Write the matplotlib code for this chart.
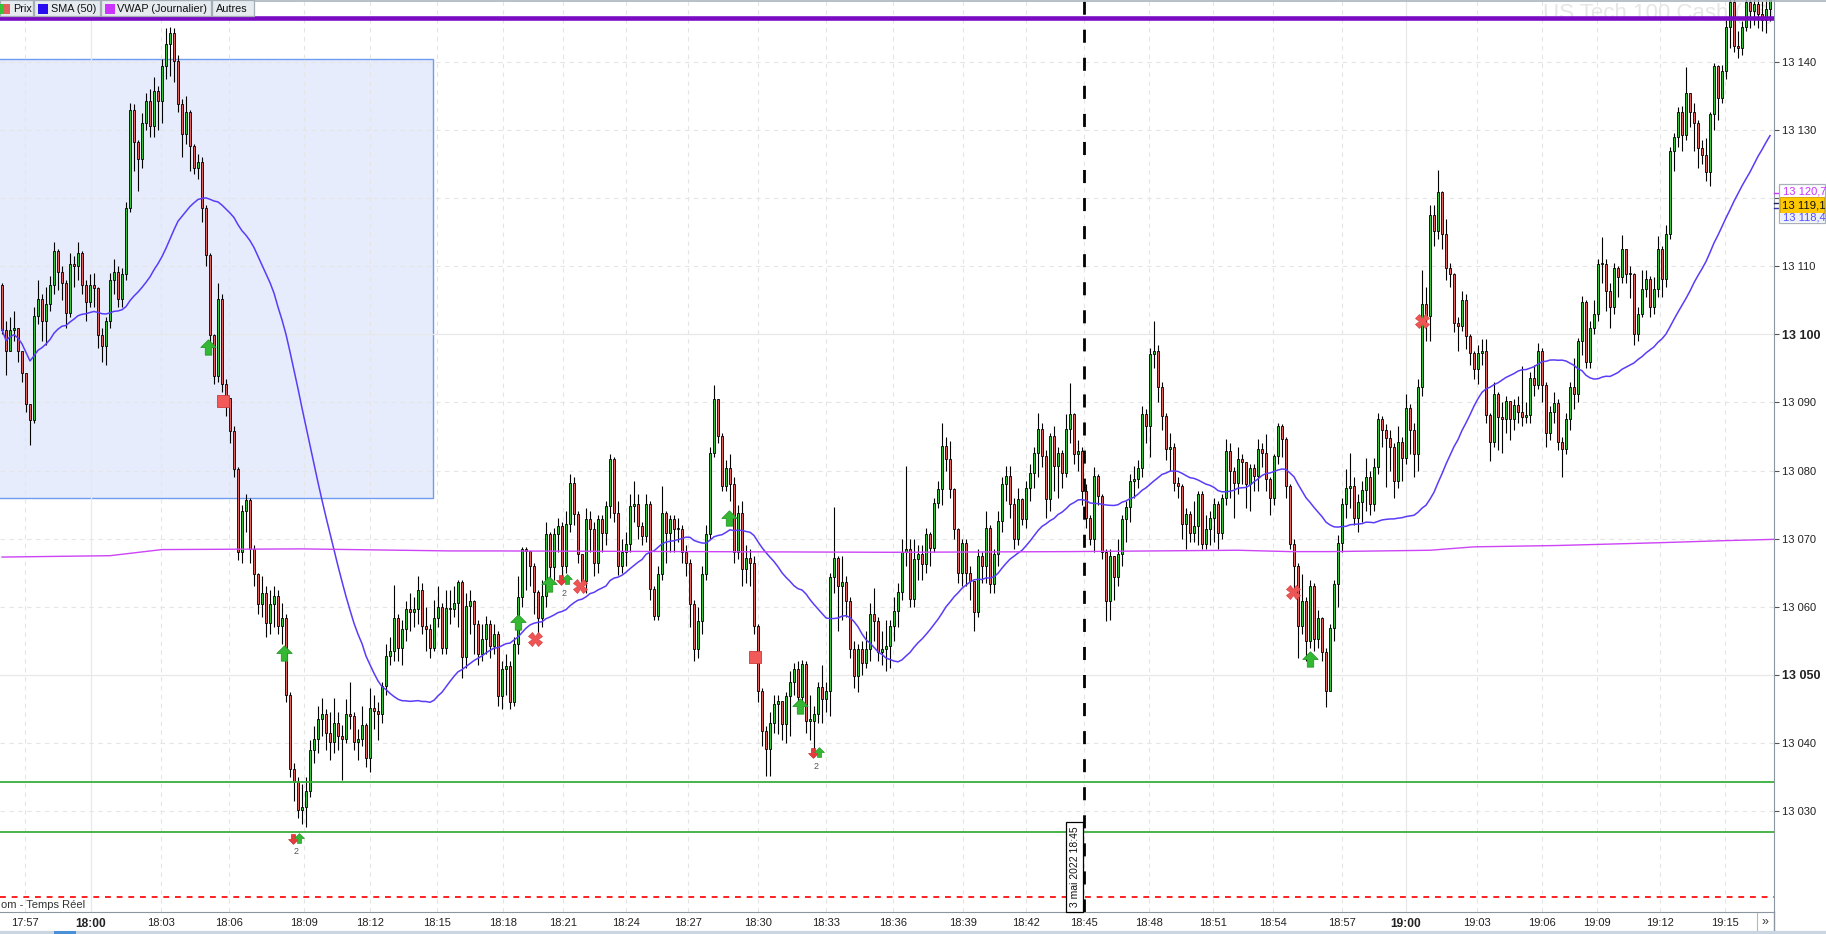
import numpy as np
import pandas as pd
import matplotlib
matplotlib.use("Agg")
import matplotlib.pyplot as plt
from matplotlib.patches import Rectangle
from matplotlib.path import Path
from matplotlib.lines import Line2D

plt.rcParams['font.family'] = ['Liberation Sans', 'DejaVu Sans']

# ---------------- data (prices as offsets from BASE) ----------------
BASE = 13000.0
OPEN0 = 107.2
CLOSE = [
    100.7, 97.5, 100.7, 100.9, 97.5, 94.3, 89.8, 87.4, 102.7, 105.2,
    101.9, 104.4, 107.2, 112.2, 109.2, 107.6, 103.1, 110.4, 110.0, 112.0,
    107.2, 104.8, 107.2, 106.8, 99.9, 98.3, 101.9, 108.0, 109.2, 105.2,
    108.8, 118.5, 133.0, 128.2, 125.7, 131.0, 134.2, 130.6, 135.8, 134.2,
    139.4, 142.7, 144.3, 140.2, 133.8, 129.4, 132.6, 127.7, 124.5, 125.3,
    118.5, 111.6, 99.9, 93.9, 105.2, 92.7, 90.6, 85.8, 80.2, 68.1,
    74.1, 75.7, 68.5, 64.8, 60.4, 62.0, 57.6, 60.4, 61.6, 57.2,
    58.4, 47.1, 36.2, 34.2, 30.2, 30.6, 33.0, 39.0, 40.6, 43.5,
    44.3, 41.4, 40.2, 43.0, 41.0, 40.6, 44.3, 43.9, 40.2, 40.6,
    42.6, 37.8, 45.1, 44.7, 44.3, 48.3, 52.7, 53.5, 58.4, 54.0,
    56.8, 59.6, 59.2, 59.6, 62.4, 57.2, 56.8, 54.0, 58.4, 60.0,
    54.0, 59.8, 59.6, 60.6, 63.6, 52.6, 60.1, 60.9, 57.5, 53.1,
    55.3, 57.5, 54.3, 56.0, 46.9, 50.9, 51.3, 46.0, 54.5, 61.4,
    68.5, 68.2, 66.0, 62.1, 58.4, 61.6, 70.7, 65.8, 70.7, 71.9,
    66.0, 72.1, 78.2, 73.6, 67.7, 63.8, 72.9, 71.4, 66.5, 72.9,
    70.9, 74.8, 81.7, 73.8, 66.0, 68.0, 69.2, 74.8, 75.1, 71.9,
    70.4, 75.1, 62.6, 58.7, 64.8, 73.8, 70.9, 72.9, 71.4, 71.4,
    68.0, 66.5, 60.4, 53.8, 57.9, 64.8, 70.7, 82.6, 90.5, 85.1,
    77.8, 80.4, 78.0, 68.0, 73.8, 65.5, 67.2, 66.5, 57.2, 47.7,
    41.8, 39.1, 43.0, 45.7, 46.2, 42.8, 46.9, 48.9, 50.9, 46.7,
    51.6, 43.3, 43.3, 44.3, 48.2, 46.5, 47.7, 64.3, 67.2, 63.1,
    63.6, 60.9, 53.8, 49.9, 53.8, 51.8, 53.8, 58.9, 57.9, 53.3,
    53.8, 54.3, 57.2, 59.4, 62.1, 68.0, 68.5, 61.1, 67.0, 67.7,
    66.3, 70.7, 68.7, 75.3, 77.3, 83.6, 81.7, 77.3, 71.4, 65.0,
    69.4, 65.0, 63.8, 59.2, 67.5, 66.0, 71.6, 63.3, 67.7, 72.6,
    78.0, 79.2, 75.1, 69.9, 75.8, 72.9, 77.5, 79.7, 82.6, 86.1,
    82.2, 75.8, 85.1, 80.7, 82.6, 79.7, 86.1, 88.3, 82.4, 82.9,
    77.0, 73.1, 69.9, 79.2, 76.3, 68.0, 60.9, 67.5, 64.3, 67.7,
    72.9, 74.6, 78.5, 78.7, 80.4, 88.3, 86.6, 97.1, 97.6, 92.2,
    88.0, 83.1, 83.4, 78.2, 77.7, 72.1, 73.6, 70.9, 71.9, 76.5,
    69.2, 71.4, 73.1, 75.1, 70.9, 76.0, 82.9, 80.0, 78.2, 81.7,
    81.2, 78.0, 80.4, 79.2, 83.1, 82.6, 78.7, 76.0, 82.2, 86.6,
    84.6, 77.7, 69.2, 66.0, 57.2, 60.9, 55.0, 63.1, 55.3, 58.4,
    53.3, 47.7, 56.9, 63.3, 69.4, 75.1, 77.4, 77.8, 73.1, 75.4,
    77.1, 79.1, 75.1, 80.5, 87.5, 85.9, 84.8, 83.5, 78.5, 84.2,
    81.8, 89.2, 85.9, 82.5, 92.3, 104.4, 102.7, 117.5, 115.2, 120.9,
    114.8, 109.8, 108.8, 101.7, 101.3, 105.1, 99.7, 97.3, 94.9, 97.3,
    97.6, 88.2, 84.2, 91.2, 87.9, 87.5, 90.2, 87.5, 89.6, 88.6,
    87.9, 88.2, 93.6, 92.6, 97.6, 92.6, 85.5, 88.6, 89.9, 84.2,
    83.2, 87.5, 92.3, 91.2, 99.0, 104.7, 96.0, 101.0, 103.0, 110.4,
    110.4, 106.4, 104.0, 109.8, 108.4, 112.5, 108.8, 108.8, 100.0, 103.0,
    106.7, 108.1, 104.0, 106.7, 112.5, 108.1, 114.8, 126.9, 129.0, 132.7,
    129.3, 135.4, 132.7, 131.0, 127.3, 126.3, 123.9, 132.3, 139.4, 134.7,
    138.7, 145.1, 148.8, 142.4, 142.1, 145.1, 148.8, 147.5, 148.5, 147.1,
    146.1, 147.8, 149.5,
]
HIGH = [
    107.6, 102.0, 102.5, 103.5, 101.0, 97.5, 94.3, 89.8, 104.0, 108.0,
    106.0, 107.0, 108.5, 113.6, 112.5, 110.0, 108.0, 112.0, 111.5, 113.5,
    112.3, 108.0, 108.8, 109.0, 107.0, 101.0, 102.5, 109.0, 111.0, 110.0,
    109.8, 119.5, 134.0, 133.8, 128.5, 132.5, 135.5, 136.0, 137.8, 136.5,
    140.5, 145.0, 145.1, 145.0, 141.0, 134.5, 135.0, 133.0, 128.0, 126.5,
    126.0, 119.0, 112.0, 100.0, 107.5, 106.0, 93.5, 90.6, 86.5, 80.5,
    75.0, 76.5, 76.0, 69.0, 65.0, 64.5, 63.0, 62.5, 63.0, 62.5,
    60.5, 59.0, 47.5, 37.0, 35.0, 34.0, 35.0, 40.5, 42.5, 45.5,
    46.6, 45.0, 44.5, 46.6, 44.5, 42.6, 46.5, 49.0, 44.5, 42.0,
    45.5, 43.0, 48.0, 47.0, 46.0, 49.0, 54.5, 55.5, 63.2, 59.0,
    58.0, 60.8, 62.0, 61.5, 64.5, 63.5, 60.0, 57.5, 61.0, 63.0,
    60.5, 62.5, 62.5, 63.0, 64.0, 64.0, 62.0, 62.5, 61.0, 58.0,
    57.5, 58.7, 58.0, 57.5, 56.5, 52.0, 53.0, 52.0, 55.5, 64.5,
    68.8, 68.8, 68.0, 66.5, 62.5, 64.0, 72.5, 71.0, 71.5, 73.0,
    72.5, 74.0, 79.5, 79.0, 74.0, 67.7, 74.5, 74.0, 72.5, 73.5,
    73.5, 75.5, 82.5, 82.0, 75.5, 70.0, 71.0, 76.5, 78.4, 76.5,
    72.5, 76.5, 75.5, 63.0, 66.0, 77.7, 74.0, 73.5, 73.5, 73.0,
    72.0, 69.0, 67.0, 61.0, 60.0, 66.0, 72.0, 83.5, 92.5, 90.5,
    85.5, 81.5, 82.5, 79.0, 75.0, 75.5, 69.0, 68.5, 67.5, 57.5,
    48.0, 42.5, 44.5, 47.0, 47.0, 46.2, 47.5, 50.5, 51.8, 52.0,
    52.2, 52.0, 47.0, 45.5, 49.0, 51.5, 49.0, 65.0, 74.6, 67.5,
    67.5, 64.5, 61.5, 55.0, 54.5, 55.0, 56.5, 60.5, 62.7, 58.5,
    56.5, 58.0, 58.0, 61.5, 63.5, 70.0, 80.7, 70.0, 70.0, 69.0,
    69.0, 71.5, 71.0, 76.0, 78.5, 87.0, 85.0, 84.4, 77.5, 71.5,
    70.0, 70.0, 66.0, 63.5, 68.5, 68.0, 74.0, 72.0, 68.5, 74.0,
    79.0, 80.6, 80.7, 76.0, 77.5, 76.0, 78.5, 81.0, 83.5, 88.5,
    87.0, 83.0, 85.5, 86.5, 83.5, 83.0, 88.3, 92.9, 88.5, 84.5,
    83.5, 78.0, 73.5, 80.5, 79.5, 76.5, 68.5, 68.5, 67.5, 70.0,
    73.5, 75.5, 79.5, 80.7, 81.5, 89.5, 89.0, 98.0, 101.9, 98.5,
    93.0, 88.5, 85.5, 84.0, 79.0, 78.0, 74.5, 74.0, 75.5, 77.0,
    77.0, 73.5, 74.0, 76.0, 75.5, 76.5, 84.6, 84.0, 80.5, 83.5,
    82.5, 81.0, 81.0, 81.0, 84.6, 84.0, 85.3, 79.0, 82.5, 87.0,
    86.8, 85.0, 78.0, 70.0, 66.5, 64.8, 61.5, 64.0, 63.5, 59.5,
    58.5, 54.0, 57.5, 64.0, 70.5, 76.0, 80.3, 82.6, 79.0, 76.5,
    78.5, 81.9, 80.0, 81.8, 88.5, 88.0, 86.8, 86.0, 84.0, 86.5,
    85.0, 91.3, 89.8, 87.0, 93.5, 109.4, 107.0, 119.0, 119.0, 124.2,
    121.0, 117.0, 110.5, 109.0, 102.5, 106.4, 106.0, 100.0, 97.5, 98.5,
    99.3, 99.3, 88.5, 93.0, 91.5, 90.0, 91.0, 90.0, 90.5, 91.0,
    95.3, 90.0, 94.5, 95.5, 98.8, 98.0, 93.0, 89.5, 91.5, 90.5,
    85.0, 88.5, 93.0, 96.5, 99.5, 105.7, 105.0, 102.0, 105.0, 111.0,
    114.3, 111.0, 107.5, 110.5, 110.0, 114.6, 112.5, 110.0, 109.0, 104.0,
    109.5, 109.4, 108.5, 108.4, 114.5, 113.0, 116.0, 127.5, 129.5, 133.4,
    133.5, 139.2, 135.5, 134.0, 131.5, 128.5, 128.8, 132.7, 139.8, 139.5,
    139.5, 146.2, 150.0, 149.5, 144.5, 146.0, 150.5, 150.5, 150.0, 150.0,
    149.0, 149.5, 150.5,
]
LOW = [
    100.0, 94.0, 97.5, 99.0, 96.0, 93.0, 88.6, 83.8, 87.0, 101.5,
    99.0, 98.5, 103.5, 106.0, 106.5, 105.0, 101.0, 102.5, 107.0, 108.0,
    106.0, 102.0, 104.0, 104.0, 98.0, 96.0, 95.5, 101.0, 106.0, 104.0,
    104.0, 108.0, 118.0, 124.0, 121.0, 124.5, 130.0, 129.0, 129.0, 130.0,
    131.0, 137.5, 138.0, 137.0, 132.6, 126.0, 128.0, 124.0, 123.5, 122.8,
    116.5, 110.0, 98.5, 92.7, 93.0, 91.5, 88.0, 84.0, 79.0, 66.8,
    66.5, 71.0, 66.5, 63.0, 59.0, 58.5, 55.5, 56.0, 57.0, 56.0,
    54.5, 46.0, 35.0, 31.5, 29.0, 28.1, 27.7, 32.0, 37.0, 38.5,
    41.0, 39.0, 37.5, 38.5, 39.0, 34.5, 40.0, 42.0, 39.0, 37.5,
    39.5, 36.5, 35.8, 42.0, 40.5, 43.0, 47.0, 51.5, 52.0, 52.0,
    51.5, 55.0, 56.5, 57.0, 57.5, 56.0, 53.5, 52.5, 53.5, 57.0,
    53.0, 53.0, 57.5, 58.5, 57.0, 49.5, 51.0, 56.0, 53.0, 51.5,
    52.0, 53.0, 52.5, 53.0, 45.5, 45.0, 47.0, 45.0, 45.5, 53.0,
    60.0, 62.5, 63.0, 59.0, 56.0, 57.0, 60.0, 64.0, 64.0, 68.0,
    64.0, 65.0, 71.0, 72.0, 66.5, 62.5, 62.0, 68.0, 64.5, 65.0,
    68.0, 69.0, 73.0, 72.5, 64.7, 65.0, 66.0, 68.0, 72.5, 70.0,
    69.0, 69.5, 61.0, 58.0, 58.0, 64.0, 66.5, 68.0, 68.0, 69.5,
    66.5, 64.5, 57.0, 52.0, 52.5, 56.0, 64.0, 70.0, 82.0, 84.0,
    77.0, 77.0, 75.5, 66.5, 67.0, 63.0, 63.5, 63.0, 56.0, 46.0,
    39.5, 35.2, 35.2, 41.5, 41.3, 40.5, 40.0, 41.0, 47.0, 45.0,
    45.0, 41.5, 40.5, 38.3, 43.0, 43.0, 44.5, 44.0, 62.0, 56.5,
    58.0, 58.5, 52.5, 48.0, 47.5, 50.0, 51.0, 52.0, 55.0, 52.0,
    51.5, 50.5, 51.0, 55.0, 57.0, 61.0, 66.0, 60.0, 60.0, 64.0,
    64.0, 65.0, 66.0, 68.0, 74.5, 75.0, 80.0, 76.0, 70.0, 63.5,
    63.0, 63.0, 61.0, 56.5, 58.5, 63.5, 63.5, 62.0, 62.0, 66.0,
    71.0, 75.5, 73.0, 68.5, 69.0, 72.0, 71.5, 75.5, 77.5, 79.0,
    80.5, 73.0, 74.0, 77.0, 76.0, 77.5, 79.0, 84.0, 81.0, 80.0,
    75.0, 71.5, 69.0, 68.0, 75.0, 67.0, 57.9, 58.0, 61.0, 63.0,
    66.0, 69.5, 72.5, 76.0, 77.5, 79.0, 84.0, 82.0, 95.0, 90.0,
    86.0, 81.5, 80.0, 77.0, 76.0, 70.0, 68.5, 69.5, 69.5, 69.0,
    68.5, 68.5, 69.0, 69.5, 68.5, 70.0, 75.0, 76.0, 73.0, 76.5,
    78.0, 74.5, 74.0, 77.0, 77.0, 80.5, 77.0, 73.5, 75.0, 81.0,
    82.0, 76.0, 68.5, 62.0, 52.5, 56.0, 52.0, 54.0, 53.5, 54.0,
    52.0, 45.3, 50.0, 55.0, 60.0, 68.0, 73.0, 74.5, 72.0, 71.0,
    72.5, 74.0, 73.5, 74.0, 79.5, 83.5, 77.6, 80.0, 76.0, 77.5,
    78.5, 81.0, 82.5, 79.0, 80.0, 91.0, 99.0, 99.0, 113.0, 114.0,
    112.5, 108.0, 107.0, 100.3, 97.5, 100.5, 97.8, 95.5, 93.5, 92.7,
    95.5, 87.0, 81.4, 83.5, 83.0, 82.6, 85.5, 84.5, 86.0, 87.0,
    86.5, 87.0, 87.0, 91.0, 92.0, 90.0, 83.5, 84.5, 87.0, 83.0,
    79.1, 82.5, 86.0, 89.0, 90.0, 97.0, 95.0, 95.0, 100.0, 102.0,
    107.5, 103.5, 101.0, 103.0, 105.5, 107.5, 107.5, 105.4, 98.5, 99.0,
    102.5, 105.5, 102.5, 103.0, 105.5, 105.5, 107.0, 114.0, 124.0, 127.5,
    127.0, 128.5, 130.5, 127.0, 124.5, 125.0, 122.5, 121.8, 130.0, 131.5,
    134.0, 137.5, 142.0, 141.5, 140.6, 141.0, 144.5, 145.0, 145.5, 145.0,
    144.5, 144.2, 146.0,
]

SMA_WINDOW = 37          # "SMA (50)" on the original bar density
VWAP_IDX = [0, 27, 40, 75, 112, 124, 222, 267, 309, 322, 332, 357, 368, 389, 414, 430, 443]
VWAP_VAL = [67.3, 67.5, 68.4, 68.5, 68.2, 68.2, 68.0, 68.1, 68.3, 68.1, 68.1, 68.3, 68.8, 69.0, 69.4, 69.7, 69.9]

TIME_LABELS = ['17:57', '18:00', '18:03', '18:06', '18:09', '18:12', '18:15', '18:18', '18:21',
               '18:24', '18:27', '18:30', '18:33', '18:36', '18:39', '18:42', '18:45', '18:48',
               '18:51', '18:54', '18:57', '19:00', '19:03', '19:06', '19:09', '19:12', '19:15']
TIME_POS = [5.85, 22.15, 39.7, 56.65, 75.4, 92.1, 108.65, 125.25, 140.25, 156.0, 171.5, 189.0,
            206.0, 222.75, 240.25, 256.0, 270.5, 286.75, 302.75, 317.75, 335.0, 351.0, 368.75,
            385.0, 398.75, 414.5, 430.75]
PRICE_TICKS = [13030, 13040, 13050, 13060, 13070, 13080, 13090, 13100, 13110, 13120, 13130, 13140]
HIDDEN_TICK = 13120      # label covered by the last-value boxes

SUPPORT_LEVELS = [13034.3, 13026.9]
STOP_LEVEL = 13017.4
TOP_LEVEL = 13146.4
ZONE_X1, ZONE_LOW, ZONE_HIGH = 107.75, 13076.0, 13140.5
EVENT_X = 270.5
EVENT_TEXT = '3 mai 2022 18:45'

BUY_X = [51.6, 70.5, 129.1, 136.8, 181.7, 199.5, 327.0]
BUY_Y = [13098.2, 13053.2, 13057.8, 13063.3, 13073.1, 13045.5, 13052.3]
PAIR_X = [73.4, 140.5, 203.5]
PAIR_Y = [13025.9, 13063.9, 13038.5]
CROSS_X = [133.25, 144.5, 322.8, 355.1]
CROSS_Y = [13055.2, 13063.1, 13062.1, 13101.9]
SQUARE_X = [55.2, 188.3]
SQUARE_Y = [13090.2, 13052.6]

LAST_VWAP, LAST_PRICE, LAST_SMA = '13 120,7', '13 119,1', '13 118,4'

# ---------------- figure ----------------
W, H = 1826, 934
fig = plt.figure(figsize=(W / 100, H / 100), dpi=100)
fig.patch.set_facecolor('white')


def fx(px):
    return px / W


def fy(py):
    return 1 - py / H


ax = fig.add_axes([0, fy(912), fx(1774), 912 / H])
ax.set_facecolor('white')
ax.set_xlim(-0.5, 443.0)
ax.set_ylim(13015.18, 13149.10)

GREEN = '#36c336'
RED = '#e2615c'
GRID_D = '#e5e5e5'
GRID_S = '#e8e8e8'

# grid
for v in PRICE_TICKS:
    if v in (13100, 13050):
        ax.axhline(v, color=GRID_S, lw=0.9, zorder=1)
    else:
        gl = ax.axhline(v, color=GRID_D, lw=0.8, zorder=1)
        gl.set_dashes((4, 4))
for p, lab in zip(TIME_POS, TIME_LABELS):
    if lab in ('18:00', '19:00'):
        ax.axvline(p, color=GRID_S, lw=0.9, zorder=1)
    else:
        gl = ax.axvline(p, color=GRID_D, lw=0.8, zorder=1)
        gl.set_dashes((4, 4))

# zone rectangle
ax.add_patch(Rectangle((-5, ZONE_LOW), ZONE_X1 + 5, ZONE_HIGH - ZONE_LOW,
                       facecolor='#e6ecfc', edgecolor='#6f9cf0', lw=1.0, zorder=0.8))

# watermark
ax.text(1543 / 1774, 1 - 14 / 912, 'US Tech 100 Cash (1€)', transform=ax.transAxes,
        fontsize=16, color='#e6e6e6', va='center', ha='left', zorder=1.5, clip_on=True)

# candles
c = np.array(CLOSE) + BASE
h = np.array(HIGH) + BASE
l = np.array(LOW) + BASE
o = np.concatenate([[OPEN0 + BASE], c[:-1]])
x = np.arange(len(c))
top = np.maximum(o, c)
bot = np.minimum(o, c)
h = np.maximum(h, top)
l = np.minimum(l, bot)
cols = np.where(c >= o, GREEN, RED)
ax.vlines(x, l, h, color='black', lw=0.8, zorder=3)
ax.bar(x, np.maximum(top - bot, 0.15), bottom=bot, width=0.74, color=cols,
       edgecolor='black', linewidth=0.6, zorder=3.5)

# SMA & VWAP
sma = pd.Series(c).rolling(SMA_WINDOW, min_periods=1).mean()
ax.plot(x, sma, color='#5a3cf8', lw=1.1, zorder=4)
ax.plot(VWAP_IDX, np.array(VWAP_VAL) + BASE, color='#cc44f5', lw=1.0, zorder=4)

# horizontal levels
for lv in SUPPORT_LEVELS:
    ax.axhline(lv, color='#3aae3a', lw=1.3, zorder=4.5)
stop = ax.axhline(STOP_LEVEL, color='#ff2020', lw=1.4, zorder=4.5)
stop.set_dashes((3.0, 3.0))
ax.axhline(TOP_LEVEL, color='#7a0bc2', lw=3.3, zorder=7)

# event line + date box
ev = ax.axvline(EVENT_X, color='black', lw=2.0, zorder=6)
ev.set_dashes((4.7, 5.4))
ax.add_patch(Rectangle((fx(1066), fy(912)), fx(17), 90 / H, transform=fig.transFigure,
                       facecolor='white', edgecolor='black', lw=0.9, zorder=5.5, clip_on=False))
ax.text(fx(1075), fy(867), EVENT_TEXT, transform=fig.transFigure, rotation=90,
        fontsize=7.5, ha='center', va='center', color='#111', zorder=5.6)

# markers
up_arrow = Path([(0, 1), (1, 0), (0.42, 0), (0.42, -1), (-0.42, -1), (-0.42, 0), (-1, 0), (0, 1)],
                [Path.MOVETO] + [Path.LINETO] * 6 + [Path.CLOSEPOLY])
down_arrow = Path([(0, -1), (1, 0), (0.42, 0), (0.42, 1), (-0.42, 1), (-0.42, 0), (-1, 0), (0, -1)],
                  [Path.MOVETO] + [Path.LINETO] * 6 + [Path.CLOSEPOLY])
ax.plot(BUY_X, BUY_Y, ls='none', marker=up_arrow, ms=11, mfc='#34b834', mec='#239a23',
        mew=0.6, zorder=6)
for px_, py_ in zip(PAIR_X, PAIR_Y):
    ax.plot([px_ - 0.75], [py_], ls='none', marker=down_arrow, ms=7, mfc='#e83c3c',
            mec='#c82828', mew=0.5, zorder=6)
    ax.plot([px_ + 0.75], [py_ + 0.2], ls='none', marker=up_arrow, ms=7, mfc='#34b834',
            mec='#239a23', mew=0.5, zorder=6)
    ax.text(px_, py_ - 1.9, '2', fontsize=6.5, color='#555', ha='center', va='center', zorder=6)
ax.plot(CROSS_X, CROSS_Y, ls='none', marker='X', ms=10, mfc='#ee5656', mec='#d84444',
        mew=0.5, zorder=6)
ax.plot(SQUARE_X, SQUARE_Y, ls='none', marker='s', ms=8, mfc='#f25a5a', mec='#cc3a3a',
        mew=0.6, zorder=6)

# axes styling
for s in ('left', 'top'):
    ax.spines[s].set_visible(False)
ax.spines['right'].set_color('#8c96a0')
ax.spines['bottom'].set_color('#8c96a0')
ax.yaxis.tick_right()
ax.set_yticks(PRICE_TICKS)
ax.set_yticklabels(['' if v == HIDDEN_TICK else f'{v // 1000} {v % 1000:03d}' for v in PRICE_TICKS])
ax.tick_params(axis='y', length=3.6, width=0.8, color='#555', pad=2, labelsize=8,
               labelcolor='#222')
for lab, v in zip(ax.get_yticklabels(), PRICE_TICKS):
    if v in (13100, 13050):
        lab.set_fontweight('bold')
        lab.set_fontsize(9)
ax.set_xticks(TIME_POS)
ax.set_xticklabels(TIME_LABELS)
ax.tick_params(axis='x', length=0, pad=4, labelsize=8, labelcolor='#222')
for lab in ax.get_xticklabels():
    if lab.get_text() in ('18:00', '19:00'):
        lab.set_fontweight('bold')
        lab.set_fontsize(8.6)

# bottom-left caption
fig.text(fx(1), fy(905), 'om - Temps Réel', fontsize=8, color='#333', ha='left', va='center')

# right price labels
fig.patches.append(Rectangle((fx(1779), fy(223)), fx(46), 39 / H, transform=fig.transFigure,
                             facecolor='white', edgecolor='#a8b0b8', lw=0.9, zorder=5))
fig.patches.append(Rectangle((fx(1780), fy(213)), fx(44), 16 / H, transform=fig.transFigure,
                             facecolor='#ffc800', edgecolor='#d0a000', lw=0.6, zorder=5.1))
fig.patches.append(Rectangle((fx(1780), fy(222)), fx(44), 9 / H, transform=fig.transFigure,
                             facecolor='#eef0f8', edgecolor='none', zorder=5.1))
fig.text(fx(1783), fy(192), LAST_VWAP, fontsize=8, color='#cc33ff', va='center', zorder=6)
fig.text(fx(1782), fy(205), LAST_PRICE, fontsize=8.2, color='#111', va='center', zorder=6)
fig.text(fx(1783), fy(218), LAST_SMA, fontsize=8, color='#5050ff', va='center', zorder=6)
fig.lines.append(Line2D([fx(1774), fx(1779)], [fy(193), fy(193)], transform=fig.transFigure,
                        color='#cc33ff', lw=1))
fig.lines.append(Line2D([fx(1774), fx(1779)], [fy(203), fy(203)], transform=fig.transFigure,
                        color='#222266', lw=1))
fig.lines.append(Line2D([fx(1774), fx(1779)], [fy(208), fy(208)], transform=fig.transFigure,
                        color='#3333aa', lw=1))

# top border and tab bar
fig.lines.append(Line2D([0, 1], [fy(0.5), fy(0.5)], transform=fig.transFigure,
                        color='#aab4be', lw=1.2))
tabs = [(0, 33, 'Prix', 13), (34, 100, 'SMA (50)', 51), (101, 211, 'VWAP (Journalier)', 117),
        (212, 254, 'Autres', 216)]
for x0, x1, txt, tx in tabs:
    fig.patches.append(Rectangle((fx(x0), fy(16)), fx(x1 - x0), 16 / H, transform=fig.transFigure,
                                 facecolor='#e6ebef', edgecolor='#a3adb6', lw=0.9, zorder=8))
    fig.text(fx(tx), fy(9), txt, fontsize=7.8, color='#111', va='center', ha='left', zorder=9)
fig.patches.append(Rectangle((fx(0), fy(14)), fx(4), 10 / H, transform=fig.transFigure,
                             facecolor=GREEN, edgecolor='none', zorder=9))
fig.patches.append(Rectangle((fx(4), fy(14)), fx(6), 10 / H, transform=fig.transFigure,
                             facecolor=RED, edgecolor='none', zorder=9))
fig.patches.append(Rectangle((fx(38), fy(14)), fx(10), 10 / H, transform=fig.transFigure,
                             facecolor='#2a0cf0', edgecolor='none', zorder=9))
fig.patches.append(Rectangle((fx(105), fy(14)), fx(10), 10 / H, transform=fig.transFigure,
                             facecolor='#cc33ff', edgecolor='none', zorder=9))

# bottom scrollbar & button
fig.patches.append(Rectangle((0, 0), 1, 3 / H, transform=fig.transFigure,
                             facecolor='#c9d5e0', edgecolor='none', zorder=8))
fig.lines.append(Line2D([0, 1], [fy(931), fy(931)], transform=fig.transFigure,
                        color='#8c96a0', lw=0.8))
fig.patches.append(Rectangle((fx(54), 0), fx(22), 3 / H, transform=fig.transFigure,
                             facecolor='#4a90d9', edgecolor='none', zorder=9))
fig.lines.append(Line2D([fx(1774), fx(1774)], [fy(912), fy(931)], transform=fig.transFigure,
                        color='#8c96a0', lw=1))
fig.lines.append(Line2D([fx(1757), fx(1757)], [fy(913), fy(931)], transform=fig.transFigure,
                        color='#b0b8c0', lw=0.8))
fig.text(fx(1765), fy(922), '»', fontsize=9, color='#333', ha='center', va='center')

fig.savefig('out.png', dpi=100, facecolor='white')
